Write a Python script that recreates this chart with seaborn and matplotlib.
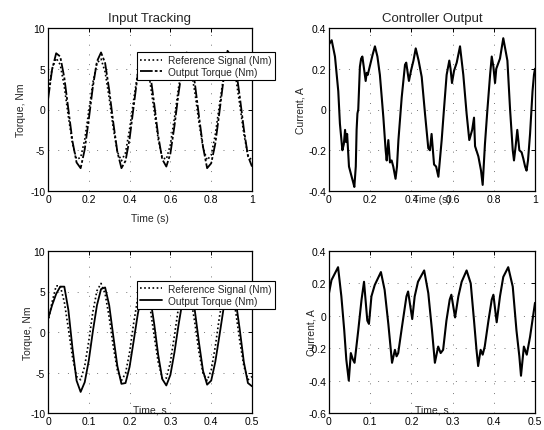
import numpy as np
import pandas as pd
import matplotlib
matplotlib.use("Agg")
import matplotlib.pyplot as plt
import seaborn as sns

# ---------------- data ----------------
# Top-left: input tracking, 0..1 s
tl_time = [0.00, 0.02, 0.04, 0.06, 0.08, 0.10, 0.12, 0.14, 0.16, 0.18,
           0.20, 0.22, 0.24, 0.26, 0.28, 0.30, 0.32, 0.34, 0.36, 0.38,
           0.40, 0.42, 0.44, 0.46, 0.48, 0.50, 0.52, 0.54, 0.56, 0.58,
           0.60, 0.62, 0.64, 0.66, 0.68, 0.70, 0.72, 0.74, 0.76, 0.78,
           0.80, 0.82, 0.84, 0.86, 0.88, 0.90, 0.92, 0.94, 0.96, 0.98, 1.00]
tl_output = [1.2, 4.9, 6.9, 6.5, 3.9, 0.0, -3.9, -6.5, -7.2, -4.9,
             -1.2, 2.8, 5.9, 7.0, 5.7, 2.4, -1.6, -5.2, -7.2, -6.3,
             -3.6, 0.4, 4.3, 6.6, 6.8, 4.6, 0.8, -3.2, -6.1, -7.0,
             -5.4, -2.0, 2.0, 5.4, 7.0, 6.1, 3.2, -0.8, -4.6, -7.2,
             -6.6, -4.2, -0.4, 3.6, 7.2, 6.5, 5.2, 1.6, -2.4, -5.7, -7.0]
tl_reference = [2.0, 5.0, 6.3, 5.5, 2.8, -0.9, -4.2, -6.1, -5.9, -3.7,
                -0.2, 3.3, 5.7, 6.2, 4.6, 1.4, -2.3, -5.2, -6.3, -5.3,
                -2.4, 1.2, 4.5, 6.2, 5.8, 3.4, -0.1, -3.6, -5.9, -6.1,
                -4.3, -1.0, 2.7, 5.4, 6.3, 5.0, 2.1, -1.6, -4.7, -6.2,
                -5.6, -3.1, 0.5, 3.9, 6.0, 6.0, 4.0, 0.6, -3.0, -5.6, -6.3]

# Top-right: controller output, 0..1 s
tr_time = [0.000, 0.013, 0.029, 0.045, 0.053, 0.065, 0.072, 0.078, 0.083, 0.088,
           0.097, 0.110, 0.118, 0.123, 0.130, 0.134, 0.138, 0.142, 0.150, 0.156,
           0.162, 0.170, 0.178, 0.183, 0.188, 0.200, 0.212, 0.223, 0.235, 0.247,
           0.256, 0.264, 0.275, 0.280, 0.288, 0.296, 0.304, 0.312, 0.323, 0.330,
           0.337, 0.353, 0.369, 0.375, 0.382, 0.388, 0.398, 0.410, 0.421, 0.435,
           0.450, 0.466, 0.482, 0.490, 0.498, 0.510, 0.520, 0.531, 0.547, 0.558,
           0.571, 0.584, 0.590, 0.597, 0.607, 0.620, 0.636, 0.652, 0.668, 0.681,
           0.695, 0.704, 0.709, 0.725, 0.738, 0.746, 0.757, 0.769, 0.782, 0.790,
           0.798, 0.806, 0.812, 0.830, 0.846, 0.866, 0.879, 0.892, 0.898, 0.906,
           0.914, 0.924, 0.935, 0.943, 0.952, 0.959, 0.966, 0.976, 0.988, 0.995,
           1.000]
tr_current = [0.32, 0.34, 0.26, 0.09, -0.07, -0.20, -0.17, -0.10, -0.16, -0.12,
              -0.28, -0.33, -0.36, -0.38, -0.28, -0.10, -0.02, 0.00, 0.21, 0.25,
              0.26, 0.20, 0.14, 0.18, 0.17, 0.22, 0.27, 0.31, 0.26, 0.17,
              0.06, -0.04, -0.20, -0.25, -0.15, -0.26, -0.25, -0.28, -0.34, -0.28,
              -0.15, 0.06, 0.22, 0.23, 0.18, 0.14, 0.19, 0.24, 0.30, 0.24,
              0.16, -0.02, -0.19, -0.20, -0.12, -0.27, -0.28, -0.33, -0.15, 0.00,
              0.17, 0.24, 0.20, 0.13, 0.19, 0.23, 0.31, 0.17, -0.02, -0.15,
              -0.10, -0.04, -0.18, -0.23, -0.30, -0.37, -0.17, 0.00, 0.17, 0.26,
              0.21, 0.13, 0.20, 0.25, 0.35, 0.24, 0.00, -0.20, -0.25, -0.18,
              -0.10, -0.20, -0.21, -0.24, -0.28, -0.30, -0.25, -0.12, 0.09, 0.17,
              0.20]

# Bottom-left: input tracking, 0..0.5 s
bl_time = [0.00, 0.01, 0.02, 0.03, 0.04, 0.05, 0.06, 0.07, 0.08, 0.09,
           0.10, 0.11, 0.12, 0.13, 0.14, 0.15, 0.16, 0.17, 0.18, 0.19,
           0.20, 0.21, 0.22, 0.23, 0.24, 0.25, 0.26, 0.27, 0.28, 0.29,
           0.30, 0.31, 0.32, 0.33, 0.34, 0.35, 0.36, 0.37, 0.38, 0.39,
           0.40, 0.41, 0.42, 0.43, 0.44, 0.45, 0.46, 0.47, 0.48, 0.49, 0.50]
bl_output = [1.6, 3.3, 4.7, 5.6, 5.6, 2.7, -2.0, -6.0, -7.4, -6.2,
             -3.5, 0.1, 3.3, 5.3, 5.5, 3.3, -0.5, -4.2, -6.4, -6.3,
             -4.3, -1.1, 2.2, 4.8, 5.7, 4.4, 1.1, -2.8, -5.8, -6.6,
             -5.3, -2.5, 0.9, 3.9, 5.5, 5.2, 2.6, -1.3, -4.8, -6.5,
             -6.0, -3.7, -0.5, 2.8, 5.1, 5.6, 3.9, 0.3, -3.7, -6.3, -6.7]
bl_reference = [1.2, 3.7, 5.7, 5.7, 3.7, 0.4, -3.1, -5.5, -5.9, -4.2,
                -1.1, 2.5, 5.1, 6.0, 4.7, 1.8, -1.8, -4.7, -6.0, -5.1,
                -2.5, 1.1, 4.2, 5.9, 5.5, 3.1, -0.4, -3.7, -5.7, -5.7,
                -3.7, -0.4, 3.1, 5.5, 5.9, 4.2, 1.1, -2.5, -5.1, -6.0,
                -4.7, -1.8, 1.8, 4.7, 6.0, 5.1, 2.5, -1.1, -4.2, -5.9, -5.5]

# Bottom-right: controller output, 0..0.5 s
br_time = [0.000, 0.006, 0.014, 0.022, 0.030, 0.037, 0.042, 0.048, 0.053, 0.058,
           0.062, 0.071, 0.079, 0.085, 0.093, 0.097, 0.103, 0.111, 0.126, 0.135,
           0.144, 0.150, 0.153, 0.160, 0.164, 0.168, 0.177, 0.188, 0.192, 0.202,
           0.208, 0.216, 0.231, 0.241, 0.250, 0.257, 0.265, 0.271, 0.277, 0.285,
           0.293, 0.297, 0.306, 0.314, 0.322, 0.334, 0.344, 0.352, 0.358, 0.362,
           0.368, 0.373, 0.378, 0.387, 0.395, 0.399, 0.407, 0.415, 0.423, 0.435,
           0.446, 0.455, 0.462, 0.466, 0.473, 0.480, 0.488, 0.496, 0.500]
br_current = [0.14, 0.22, 0.26, 0.30, 0.12, -0.09, -0.27, -0.40, -0.23, -0.27,
              -0.29, -0.09, 0.10, 0.21, -0.03, -0.05, 0.12, 0.19, 0.27, 0.16,
              -0.05, -0.21, -0.29, -0.21, -0.25, -0.23, -0.07, 0.12, 0.15, -0.02,
              0.12, 0.21, 0.28, 0.14, -0.09, -0.29, -0.19, -0.23, -0.21, -0.03,
              0.10, 0.13, -0.01, 0.12, 0.21, 0.28, 0.20, -0.03, -0.21, -0.31,
              -0.21, -0.24, -0.19, -0.03, 0.10, 0.13, -0.04, 0.12, 0.24, 0.30,
              0.18, -0.09, -0.25, -0.37, -0.19, -0.24, -0.13, 0.01, 0.08]

titles = ["Input Tracking", "Controller Output"]
legend_labels = ["Reference Signal (Nm)", "Output Torque (Nm)"]
torque_ticks = [-10, -5, 0, 5, 10]
current_ticks_top = [-0.4, -0.2, 0, 0.2, 0.4]
current_ticks_bottom = [-0.6, -0.4, -0.2, 0, 0.2, 0.4]
time_ticks_long = [0, 0.2, 0.4, 0.6, 0.8, 1]
time_ticks_short = [0, 0.1, 0.2, 0.3, 0.4, 0.5]

# ---------------- style ----------------
sns.set_style("white")
plt.rcParams["font.family"] = ["Liberation Sans", "DejaVu Sans"]
plt.rcParams["axes.unicode_minus"] = False

fig = plt.figure(figsize=(5.44, 4.31), dpi=100)
W, H = 544, 431

def make_ax(x0, x1, ytop, ybot):
    return fig.add_axes([x0 / W, 1 - ybot / H, (x1 - x0) / W, (ybot - ytop) / H])

ax_tl = make_ax(48, 252, 29, 192)
ax_tr = make_ax(329, 535, 29, 192)
ax_bl = make_ax(48, 252, 252, 414)
ax_br = make_ax(329, 535, 252, 414)

def style_ax(ax, xlim, ylim, xticks, yticks, xtl=None, ytl=None):
    ax.set_xlim(*xlim)
    ax.set_ylim(*ylim)
    ax.set_xticks(xticks)
    ax.set_yticks(yticks)
    if xtl is not None:
        ax.set_xticklabels(xtl)
    if ytl is not None:
        ax.set_yticklabels(ytl)
    ax.tick_params(direction="in", length=3, width=0.7, labelsize=7.5,
                   top=True, right=True, colors="black", pad=2)
    for s in ax.spines.values():
        s.set_visible(True)
        s.set_color("black")
        s.set_linewidth(0.9)
    ax.grid(True, color="#777777", linestyle=(0, (1, 9)), linewidth=0.7)
    ax.set_facecolor("white")

dotted = (0, (1, 1.5))
outstyle = (0, (7, 1.2, 1.5, 1.2))

# top-left
df_tl = pd.DataFrame({"t": tl_time, "ref": tl_reference, "out": tl_output})
sns.lineplot(data=df_tl, x="t", y="ref", ax=ax_tl, color="black", linestyle=dotted,
             linewidth=1.2, label=legend_labels[0], estimator=None, sort=False)
sns.lineplot(data=df_tl, x="t", y="out", ax=ax_tl, color="black", linestyle=outstyle,
             linewidth=1.3, label=legend_labels[1], estimator=None, sort=False)
style_ax(ax_tl, (0, 1), (-10, 10), time_ticks_long, torque_ticks,
         ["0", "0.2", "0.4", "0.6", "0.8", "1"], ["-10", "-5", "0", "5", "10"])
ax_tl.set_title(titles[0], fontsize=9.5, pad=5)
ax_tl.set_ylabel("Torque, Nm", fontsize=7.5, labelpad=3)
ax_tl.set_xlabel("Time (s)", fontsize=7.5, labelpad=7)

# top-right
df_tr = pd.DataFrame({"t": tr_time, "i": tr_current})
sns.lineplot(data=df_tr, x="t", y="i", ax=ax_tr, color="black", linewidth=1.5,
             estimator=None, sort=False)
style_ax(ax_tr, (0, 1), (-0.4, 0.4), time_ticks_long, current_ticks_top,
         ["0", "0.2", "0.4", "0.6", "0.8", "1"], ["-0.4", "-0.2", "0", "0.2", "0.4"])
ax_tr.set_title(titles[1], fontsize=9.5, pad=5)
ax_tr.set_ylabel("Current, A", fontsize=7.5, labelpad=2)
ax_tr.set_xlabel("Time (s)", fontsize=7.5)
ax_tr.xaxis.set_label_coords(0.5, -0.02)

# bottom-left
df_bl = pd.DataFrame({"t": bl_time, "ref": bl_reference, "out": bl_output})
sns.lineplot(data=df_bl, x="t", y="ref", ax=ax_bl, color="black", linestyle=dotted,
             linewidth=1.2, label=legend_labels[0], estimator=None, sort=False)
sns.lineplot(data=df_bl, x="t", y="out", ax=ax_bl, color="black", linestyle="-",
             linewidth=1.3, label=legend_labels[1], estimator=None, sort=False)
style_ax(ax_bl, (0, 0.5), (-10, 10), time_ticks_short, torque_ticks,
         ["0", "0.1", "0.2", "0.3", "0.4", "0.5"], ["-10", "-5", "0", "5", "10"])
ax_bl.set_ylabel("Torque, Nm", fontsize=7.5, labelpad=-2)
ax_bl.set_xlabel("Time, s", fontsize=7.5)
ax_bl.xaxis.set_label_coords(0.5, -0.01)
ax_bl.xaxis.label.set_verticalalignment("bottom")

# bottom-right
df_br = pd.DataFrame({"t": br_time, "i": br_current})
sns.lineplot(data=df_br, x="t", y="i", ax=ax_br, color="black", linewidth=1.5,
             estimator=None, sort=False)
style_ax(ax_br, (0, 0.5), (-0.6, 0.4), time_ticks_short, current_ticks_bottom,
         ["0", "0.1", "0.2", "0.3", "0.4", "0.5"],
         ["-0.6", "-0.4", "-0.2", "0", "0.2", "0.4"])
ax_br.set_ylabel("Current, A", fontsize=7.5, labelpad=-6)
ax_br.set_xlabel("Time, s", fontsize=7.5)
ax_br.xaxis.set_label_coords(0.5, -0.01)
ax_br.xaxis.label.set_verticalalignment("bottom")

# legends
for ax, y in ((ax_tl, 0.85), (ax_bl, 0.815)):
    leg = ax.legend(loc="upper left", bbox_to_anchor=(0.435, y), borderaxespad=0,
                    fontsize=7.3, frameon=True, fancybox=False, framealpha=1,
                    edgecolor="black", handlelength=2.2, handletextpad=0.6,
                    borderpad=0.3, labelspacing=0.15)
    leg.get_frame().set_linewidth(0.8)
    leg.set_zorder(10)

fig.savefig("out.png", dpi=100, facecolor="white")
